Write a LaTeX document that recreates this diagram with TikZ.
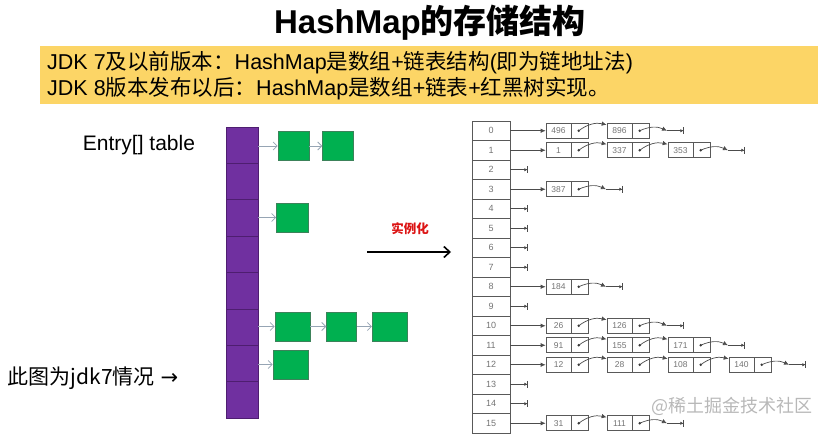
\documentclass[tikz,border=0pt]{standalone}
\usepackage{fontspec}
\setmainfont{Liberation Sans}
\newfontfamily\cjk{Noto Sans CJK SC}
\newfontfamily\symf{DejaVu Sans}
\usetikzlibrary{arrows.meta,positioning}
\definecolor{bandyellow}{RGB}{252,213,102}
\definecolor{entrypurple}{RGB}{112,48,160}
\definecolor{entryedge}{RGB}{78,30,112}
\definecolor{nodegreen}{RGB}{0,176,80}
\definecolor{nodeedge}{RGB}{60,130,90}
\definecolor{linkgray}{RGB}{150,165,180}
\definecolor{instred}{RGB}{220,20,20}
\newcommand\zh[1]{{\cjk #1}}

\begin{document}
\begin{tikzpicture}[x=1pt, y=-1pt,
  cell/.style={draw=entryedge, fill=entrypurple, line width=0.8pt, minimum width=32pt, minimum height=36.4pt, inner sep=0pt},
  gbox/.style={draw=nodeedge, fill=nodegreen, line width=0.6pt, minimum height=29pt, inner sep=0pt},
  garr/.style={-{Straight Barb[length=4pt,width=8pt]}, draw=linkgray, line width=0.8pt},
  slot/.style={draw=black!65, line width=0.7pt, minimum width=38pt, minimum height=19.5pt, inner sep=0pt, text=black!55, font=\fontsize{9}{10}\selectfont},
  keypart/.style={draw=black!65, line width=0.7pt, minimum width=25pt, minimum height=15pt, inner sep=0pt, text=black!55, font=\fontsize{8.5}{10}\selectfont},
  ptrpart/.style={draw=black!65, line width=0.7pt, minimum width=17pt, minimum height=15pt, inner sep=0pt, path picture={\fill[black!80] ([xshift=-1.5pt]path picture bounding box.center) circle (1.4pt);}},
  link/.style={-{Latex[length=5pt,width=4.5pt]}, draw=black!70, line width=0.7pt},
  nil/.style={-{Latex[length=3pt,width=3.5pt] Bar[width=7pt]}, draw=black!70, line width=0.7pt}]
\useasboundingbox (0,0) rectangle (826,434);

% title and yellow band
\node[font=\bfseries\fontsize{33}{36}\selectfont] (title) at (430,23) {HashMap\zh{的存储结构}};
\node[fill=bandyellow, minimum width=778pt, minimum height=58pt, inner sep=0pt] (band) at (429,75) {};
\node[anchor=west, align=left, inner sep=0pt, font=\fontsize{21.5}{26}\selectfont] (jdk) at (47,76)
  {JDK 7\zh{及以前版本：}HashMap\zh{是数组}+\zh{链表结构}(\zh{即为链地址法})\\
   JDK 8\zh{版本发布以后：}HashMap\zh{是数组}+\zh{链表}+\zh{红黑树实现。}};

% jdk7 picture
\node[font=\fontsize{21}{24}\selectfont] (entry) at (139,145) {Entry[] table};
\foreach \i in {0,...,7}
  \node[cell] (c\i) at (242,{145.2+36.4*\i}) {};
\node[gbox, minimum width=31pt] (g1) at (293.5,146) {};
\node[gbox, minimum width=31pt, right=13pt of g1] (g2) {};
\node[gbox, minimum width=32pt] (g3) at (292.5,217.5) {};
\node[gbox, minimum width=35pt] (g4) at (292.5,326.5) {};
\node[gbox, minimum width=30pt, right=16pt of g4] (g5) {};
\node[gbox, minimum width=35pt, right=15pt of g5] (g6) {};
\node[gbox, minimum width=35pt] (g7) at (290.5,364.5) {};
\draw[garr] (c0.east |- g1) -- (g1);
\draw[garr] (g1) -- (g2);
\draw[garr] (c2.east |- g3) -- (g3);
\draw[garr] (c5.east |- g4) -- (g4);
\draw[garr] (g4) -- (g5);
\draw[garr] (g5) -- (g6);
\draw[garr] (c6.east |- g7) -- (g7);
\node[font=\fontsize{21}{24}\selectfont] (note) at (93,378) {\zh{此图为jdk7情况} {\symf →}};

% instantiate arrow
\node[text=instred, font=\bfseries\fontsize{12.5}{14}\selectfont] (inst) at (410,229) {\zh{实例化}};
\coordinate (from) at (367,252);
\coordinate (to) at (451,252);
\draw[-{Straight Barb[length=6pt,width=11pt]}, line width=1.6pt] (from) -- (to);

% hash table with chains
\foreach \i in {0,...,15}
  \node[slot] (s\i) at (491,{130.75+19.5*\i}) {\i};
\foreach \i in {2,4,5,6,7,9,13,14} {
  \coordinate (z\i) at (528,{130.75+19.5*\i});
  \draw[nil] (s\i) -- (z\i);
}
\foreach \row/\n/\keys in {0/2/{496,896}, 1/3/{1,337,353}, 3/1/{387}, 8/1/{184},
    10/2/{26,126}, 11/3/{91,155,171}, 12/4/{12,28,108,140}, 15/2/{31,111}} {
  \foreach \k [count=\j] in \keys {
    \pgfmathtruncatemacro\pj{\j-1}
    \node[keypart] (k\row-\j) at ({558.5+61*(\j-1)},{130.75+19.5*\row}) {\k};
    \node[ptrpart, right=0pt of k\row-\j] (p\row-\j) {};
    \ifnum\j=1 \draw[link] (s\row) -- (k\row-\j);
    \else \draw[link] ([xshift=-1.5pt]p\row-\pj.center) to[bend left=25] (k\row-\j); \fi
  }
  \coordinate (e\row) at ({545+61*\n},{130.75+19.5*\row});
  \coordinate (z\row) at ({562+61*\n},{130.75+19.5*\row});
  \draw[link] ([xshift=-1.5pt]p\row-\n.center) to[bend left=25] (e\row);
  \draw[nil] (e\row) -- (z\row);
}
\node[text=black!28, font=\fontsize{18}{20}\selectfont] (wm) at (732,406) {\zh{@稀土掘金技术社区}};
\end{tikzpicture}
\end{document}
